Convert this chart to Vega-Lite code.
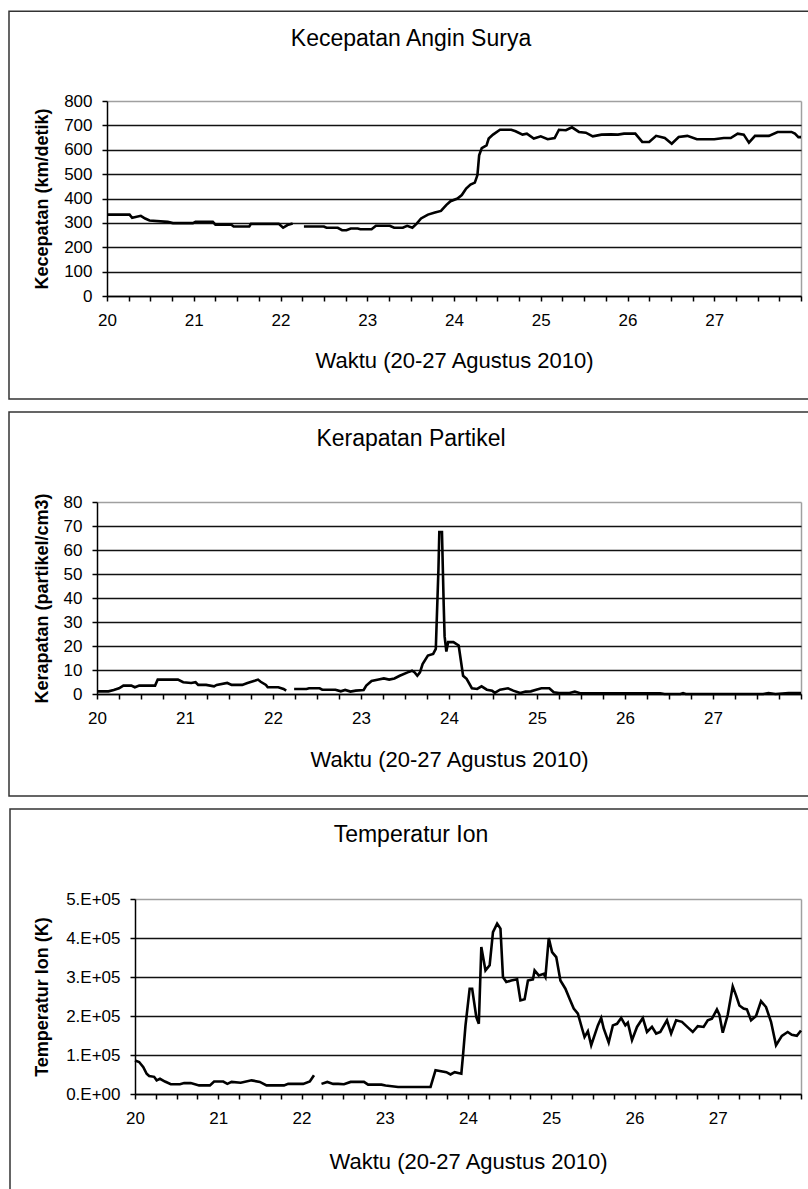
{
  "$schema": "https://vega.github.io/schema/vega-lite/v6.json",
  "background": "white",
  "padding": {"left": 8, "top": 10, "right": 0, "bottom": 0},
  "spacing": 11,
  "datasets": {
    "speed": [
      {"d": 20.00, "v": 334, "seg": 1}, {"d": 20.26, "v": 334, "seg": 1}, {"d": 20.29, "v": 321, "seg": 1}, {"d": 20.39, "v": 329, "seg": 1},
      {"d": 20.44, "v": 318, "seg": 1}, {"d": 20.49, "v": 310, "seg": 1}, {"d": 20.70, "v": 304, "seg": 1}, {"d": 20.76, "v": 299, "seg": 1},
      {"d": 20.99, "v": 299, "seg": 1}, {"d": 21.02, "v": 304, "seg": 1}, {"d": 21.22, "v": 304, "seg": 1}, {"d": 21.25, "v": 293, "seg": 1},
      {"d": 21.43, "v": 293, "seg": 1}, {"d": 21.46, "v": 285, "seg": 1}, {"d": 21.64, "v": 285, "seg": 1}, {"d": 21.66, "v": 296, "seg": 1},
      {"d": 21.98, "v": 296, "seg": 1}, {"d": 22.03, "v": 280, "seg": 1}, {"d": 22.08, "v": 291, "seg": 1}, {"d": 22.14, "v": 297, "seg": 1},
      {"d": 22.27, "v": 285, "seg": 2}, {"d": 22.50, "v": 285, "seg": 2}, {"d": 22.53, "v": 280, "seg": 2}, {"d": 22.66, "v": 280, "seg": 2},
      {"d": 22.71, "v": 270, "seg": 2}, {"d": 22.76, "v": 270, "seg": 2}, {"d": 22.81, "v": 277, "seg": 2}, {"d": 22.89, "v": 277, "seg": 2},
      {"d": 22.92, "v": 274, "seg": 2}, {"d": 23.05, "v": 274, "seg": 2}, {"d": 23.10, "v": 288, "seg": 2}, {"d": 23.26, "v": 288, "seg": 2},
      {"d": 23.31, "v": 280, "seg": 2}, {"d": 23.41, "v": 280, "seg": 2}, {"d": 23.46, "v": 288, "seg": 2}, {"d": 23.52, "v": 280, "seg": 2},
      {"d": 23.57, "v": 297, "seg": 2}, {"d": 23.62, "v": 318, "seg": 2}, {"d": 23.70, "v": 334, "seg": 2}, {"d": 23.78, "v": 343, "seg": 2},
      {"d": 23.85, "v": 349, "seg": 2}, {"d": 23.91, "v": 373, "seg": 2}, {"d": 23.96, "v": 389, "seg": 2}, {"d": 24.04, "v": 400, "seg": 2},
      {"d": 24.09, "v": 414, "seg": 2}, {"d": 24.14, "v": 441, "seg": 2}, {"d": 24.19, "v": 457, "seg": 2}, {"d": 24.24, "v": 465, "seg": 2},
      {"d": 24.27, "v": 496, "seg": 2}, {"d": 24.29, "v": 577, "seg": 2}, {"d": 24.32, "v": 607, "seg": 2}, {"d": 24.375, "v": 618, "seg": 2},
      {"d": 24.40, "v": 646, "seg": 2}, {"d": 24.45, "v": 662, "seg": 2}, {"d": 24.53, "v": 682, "seg": 2}, {"d": 24.66, "v": 682, "seg": 2},
      {"d": 24.71, "v": 676, "seg": 2}, {"d": 24.79, "v": 662, "seg": 2}, {"d": 24.84, "v": 666, "seg": 2}, {"d": 24.92, "v": 646, "seg": 2},
      {"d": 25.00, "v": 655, "seg": 2}, {"d": 25.08, "v": 643, "seg": 2}, {"d": 25.16, "v": 648, "seg": 2}, {"d": 25.21, "v": 682, "seg": 2},
      {"d": 25.29, "v": 680, "seg": 2}, {"d": 25.36, "v": 692, "seg": 2}, {"d": 25.44, "v": 673, "seg": 2}, {"d": 25.52, "v": 670, "seg": 2},
      {"d": 25.60, "v": 655, "seg": 2}, {"d": 25.70, "v": 662, "seg": 2}, {"d": 25.81, "v": 663, "seg": 2}, {"d": 25.89, "v": 662, "seg": 2},
      {"d": 25.96, "v": 666, "seg": 2}, {"d": 26.09, "v": 666, "seg": 2}, {"d": 26.17, "v": 632, "seg": 2}, {"d": 26.25, "v": 632, "seg": 2},
      {"d": 26.33, "v": 657, "seg": 2}, {"d": 26.43, "v": 648, "seg": 2}, {"d": 26.51, "v": 625, "seg": 2}, {"d": 26.59, "v": 652, "seg": 2},
      {"d": 26.69, "v": 657, "seg": 2}, {"d": 26.80, "v": 643, "seg": 2}, {"d": 27.00, "v": 643, "seg": 2}, {"d": 27.11, "v": 648, "seg": 2},
      {"d": 27.19, "v": 648, "seg": 2}, {"d": 27.27, "v": 666, "seg": 2}, {"d": 27.34, "v": 662, "seg": 2}, {"d": 27.40, "v": 629, "seg": 2},
      {"d": 27.47, "v": 657, "seg": 2}, {"d": 27.63, "v": 657, "seg": 2}, {"d": 27.73, "v": 673, "seg": 2}, {"d": 27.89, "v": 673, "seg": 2},
      {"d": 27.93, "v": 666, "seg": 2}, {"d": 27.97, "v": 652, "seg": 2}, {"d": 28.00, "v": 652, "seg": 2}
    ],
    "dens": [
      {"d": 20.00, "v": 1.1, "seg": 1}, {"d": 20.13, "v": 1.1, "seg": 1}, {"d": 20.19, "v": 1.7, "seg": 1}, {"d": 20.25, "v": 2.4, "seg": 1},
      {"d": 20.30, "v": 3.5, "seg": 1}, {"d": 20.39, "v": 3.5, "seg": 1}, {"d": 20.43, "v": 2.8, "seg": 1}, {"d": 20.48, "v": 3.5, "seg": 1},
      {"d": 20.66, "v": 3.5, "seg": 1}, {"d": 20.69, "v": 6.0, "seg": 1}, {"d": 20.92, "v": 6.0, "seg": 1}, {"d": 20.98, "v": 4.9, "seg": 1},
      {"d": 21.07, "v": 4.6, "seg": 1}, {"d": 21.12, "v": 4.9, "seg": 1}, {"d": 21.15, "v": 3.8, "seg": 1}, {"d": 21.24, "v": 3.8, "seg": 1},
      {"d": 21.33, "v": 3.2, "seg": 1}, {"d": 21.36, "v": 3.8, "seg": 1}, {"d": 21.48, "v": 4.6, "seg": 1}, {"d": 21.53, "v": 3.8, "seg": 1},
      {"d": 21.65, "v": 3.8, "seg": 1}, {"d": 21.71, "v": 4.6, "seg": 1}, {"d": 21.80, "v": 5.6, "seg": 1}, {"d": 21.83, "v": 6.0, "seg": 1},
      {"d": 21.86, "v": 5.1, "seg": 1}, {"d": 21.92, "v": 3.8, "seg": 1}, {"d": 21.94, "v": 2.8, "seg": 1}, {"d": 22.06, "v": 2.8, "seg": 1},
      {"d": 22.12, "v": 2.1, "seg": 1}, {"d": 22.15, "v": 1.4, "seg": 1},
      {"d": 22.24, "v": 2.1, "seg": 2}, {"d": 22.38, "v": 2.1, "seg": 2}, {"d": 22.41, "v": 2.4, "seg": 2}, {"d": 22.53, "v": 2.4, "seg": 2},
      {"d": 22.56, "v": 1.8, "seg": 2}, {"d": 22.71, "v": 1.8, "seg": 2}, {"d": 22.77, "v": 1.1, "seg": 2}, {"d": 22.82, "v": 1.7, "seg": 2},
      {"d": 22.88, "v": 1.0, "seg": 2}, {"d": 22.94, "v": 1.4, "seg": 2}, {"d": 23.03, "v": 1.7, "seg": 2}, {"d": 23.06, "v": 3.5, "seg": 2},
      {"d": 23.12, "v": 5.4, "seg": 2}, {"d": 23.20, "v": 6.0, "seg": 2}, {"d": 23.26, "v": 6.5, "seg": 2}, {"d": 23.32, "v": 6.0, "seg": 2},
      {"d": 23.38, "v": 6.5, "seg": 2}, {"d": 23.44, "v": 7.6, "seg": 2}, {"d": 23.53, "v": 9.0, "seg": 2}, {"d": 23.58, "v": 9.7, "seg": 2},
      {"d": 23.61, "v": 9.0, "seg": 2}, {"d": 23.64, "v": 7.6, "seg": 2}, {"d": 23.67, "v": 9.0, "seg": 2}, {"d": 23.70, "v": 12.5, "seg": 2},
      {"d": 23.76, "v": 16.0, "seg": 2}, {"d": 23.82, "v": 16.7, "seg": 2}, {"d": 23.85, "v": 18.8, "seg": 2}, {"d": 23.88, "v": 52, "seg": 2},
      {"d": 23.89, "v": 67.5, "seg": 2}, {"d": 23.92, "v": 67.5, "seg": 2}, {"d": 23.94, "v": 36.9, "seg": 2}, {"d": 23.95, "v": 24.0, "seg": 2},
      {"d": 23.97, "v": 17.7, "seg": 2}, {"d": 23.99, "v": 21.6, "seg": 2}, {"d": 24.05, "v": 21.6, "seg": 2}, {"d": 24.11, "v": 20.2, "seg": 2},
      {"d": 24.16, "v": 7.6, "seg": 2}, {"d": 24.20, "v": 6.3, "seg": 2}, {"d": 24.26, "v": 2.4, "seg": 2}, {"d": 24.32, "v": 2.1, "seg": 2},
      {"d": 24.37, "v": 3.2, "seg": 2}, {"d": 24.43, "v": 1.8, "seg": 2}, {"d": 24.49, "v": 1.4, "seg": 2}, {"d": 24.52, "v": 0.5, "seg": 2},
      {"d": 24.58, "v": 1.8, "seg": 2}, {"d": 24.67, "v": 2.4, "seg": 2}, {"d": 24.73, "v": 1.4, "seg": 2}, {"d": 24.81, "v": 0.4, "seg": 2},
      {"d": 24.87, "v": 1.0, "seg": 2}, {"d": 24.93, "v": 1.1, "seg": 2}, {"d": 24.99, "v": 1.8, "seg": 2}, {"d": 25.05, "v": 2.4, "seg": 2},
      {"d": 25.14, "v": 2.4, "seg": 2}, {"d": 25.19, "v": 0.7, "seg": 2}, {"d": 25.25, "v": 0.4, "seg": 2}, {"d": 25.37, "v": 0.4, "seg": 2},
      {"d": 25.43, "v": 1.0, "seg": 2}, {"d": 25.49, "v": 0.3, "seg": 2}, {"d": 25.81, "v": 0.3, "seg": 2}, {"d": 26.40, "v": 0.3, "seg": 2},
      {"d": 26.45, "v": 0.0, "seg": 2}, {"d": 26.63, "v": 0.0, "seg": 2}, {"d": 26.66, "v": 0.4, "seg": 2}, {"d": 26.69, "v": 0.0, "seg": 2},
      {"d": 27.57, "v": 0.0, "seg": 2}, {"d": 27.63, "v": 0.4, "seg": 2}, {"d": 27.71, "v": 0.0, "seg": 2}, {"d": 27.86, "v": 0.4, "seg": 2},
      {"d": 28.00, "v": 0.4, "seg": 2}
    ],
    "temp": [
      {"d": 20.00, "v": 86000, "seg": 1}, {"d": 20.05, "v": 82000, "seg": 1}, {"d": 20.10, "v": 69000, "seg": 1}, {"d": 20.14, "v": 52000, "seg": 1},
      {"d": 20.17, "v": 46000, "seg": 1}, {"d": 20.23, "v": 44000, "seg": 1}, {"d": 20.26, "v": 35000, "seg": 1}, {"d": 20.30, "v": 39000, "seg": 1},
      {"d": 20.36, "v": 32000, "seg": 1}, {"d": 20.43, "v": 25000, "seg": 1}, {"d": 20.54, "v": 25000, "seg": 1}, {"d": 20.59, "v": 28000, "seg": 1},
      {"d": 20.67, "v": 28000, "seg": 1}, {"d": 20.77, "v": 22000, "seg": 1}, {"d": 20.90, "v": 22000, "seg": 1}, {"d": 20.95, "v": 32000, "seg": 1},
      {"d": 21.06, "v": 32000, "seg": 1}, {"d": 21.11, "v": 26000, "seg": 1}, {"d": 21.16, "v": 31000, "seg": 1}, {"d": 21.27, "v": 29000, "seg": 1},
      {"d": 21.40, "v": 35000, "seg": 1}, {"d": 21.50, "v": 31000, "seg": 1}, {"d": 21.58, "v": 22000, "seg": 1}, {"d": 21.79, "v": 22000, "seg": 1},
      {"d": 21.84, "v": 26000, "seg": 1}, {"d": 22.02, "v": 26000, "seg": 1}, {"d": 22.10, "v": 32000, "seg": 1}, {"d": 22.15, "v": 48000, "seg": 1},
      {"d": 22.24, "v": 26000, "seg": 2}, {"d": 22.31, "v": 31000, "seg": 2}, {"d": 22.38, "v": 26000, "seg": 2}, {"d": 22.44, "v": 26000, "seg": 2},
      {"d": 22.51, "v": 25000, "seg": 2}, {"d": 22.59, "v": 31000, "seg": 2}, {"d": 22.75, "v": 31000, "seg": 2}, {"d": 22.80, "v": 24000, "seg": 2},
      {"d": 22.96, "v": 24000, "seg": 2}, {"d": 23.01, "v": 22000, "seg": 2}, {"d": 23.16, "v": 18000, "seg": 2}, {"d": 23.55, "v": 18000, "seg": 2},
      {"d": 23.61, "v": 61000, "seg": 2}, {"d": 23.74, "v": 56000, "seg": 2}, {"d": 23.79, "v": 50000, "seg": 2}, {"d": 23.84, "v": 56000, "seg": 2},
      {"d": 23.92, "v": 52000, "seg": 2}, {"d": 23.94, "v": 99000, "seg": 2}, {"d": 23.97, "v": 176000, "seg": 2}, {"d": 24.02, "v": 270000, "seg": 2},
      {"d": 24.05, "v": 270000, "seg": 2}, {"d": 24.10, "v": 197000, "seg": 2}, {"d": 24.13, "v": 180000, "seg": 2}, {"d": 24.16, "v": 377000, "seg": 2},
      {"d": 24.21, "v": 317000, "seg": 2}, {"d": 24.26, "v": 330000, "seg": 2}, {"d": 24.30, "v": 415000, "seg": 2}, {"d": 24.35, "v": 437000, "seg": 2},
      {"d": 24.39, "v": 424000, "seg": 2}, {"d": 24.42, "v": 300000, "seg": 2}, {"d": 24.46, "v": 287000, "seg": 2}, {"d": 24.52, "v": 291000, "seg": 2},
      {"d": 24.59, "v": 294000, "seg": 2}, {"d": 24.63, "v": 240000, "seg": 2}, {"d": 24.68, "v": 243000, "seg": 2}, {"d": 24.72, "v": 291000, "seg": 2},
      {"d": 24.78, "v": 294000, "seg": 2}, {"d": 24.80, "v": 317000, "seg": 2}, {"d": 24.85, "v": 304000, "seg": 2}, {"d": 24.91, "v": 308000, "seg": 2},
      {"d": 24.93, "v": 300000, "seg": 2}, {"d": 24.97, "v": 400000, "seg": 2}, {"d": 25.01, "v": 364000, "seg": 2}, {"d": 25.06, "v": 351000, "seg": 2},
      {"d": 25.11, "v": 291000, "seg": 2}, {"d": 25.17, "v": 270000, "seg": 2}, {"d": 25.22, "v": 244000, "seg": 2}, {"d": 25.27, "v": 219000, "seg": 2},
      {"d": 25.32, "v": 206000, "seg": 2}, {"d": 25.37, "v": 168000, "seg": 2}, {"d": 25.40, "v": 146000, "seg": 2}, {"d": 25.44, "v": 161000, "seg": 2},
      {"d": 25.48, "v": 125000, "seg": 2}, {"d": 25.56, "v": 176000, "seg": 2}, {"d": 25.60, "v": 195000, "seg": 2}, {"d": 25.63, "v": 168000, "seg": 2},
      {"d": 25.69, "v": 132000, "seg": 2}, {"d": 25.74, "v": 176000, "seg": 2}, {"d": 25.79, "v": 180000, "seg": 2}, {"d": 25.84, "v": 195000, "seg": 2},
      {"d": 25.89, "v": 176000, "seg": 2}, {"d": 25.92, "v": 183000, "seg": 2}, {"d": 25.97, "v": 138000, "seg": 2}, {"d": 26.03, "v": 172000, "seg": 2},
      {"d": 26.10, "v": 195000, "seg": 2}, {"d": 26.15, "v": 159000, "seg": 2}, {"d": 26.21, "v": 172000, "seg": 2}, {"d": 26.26, "v": 155000, "seg": 2},
      {"d": 26.31, "v": 159000, "seg": 2}, {"d": 26.39, "v": 189000, "seg": 2}, {"d": 26.44, "v": 155000, "seg": 2}, {"d": 26.50, "v": 189000, "seg": 2},
      {"d": 26.57, "v": 185000, "seg": 2}, {"d": 26.65, "v": 169000, "seg": 2}, {"d": 26.70, "v": 159000, "seg": 2}, {"d": 26.76, "v": 174000, "seg": 2},
      {"d": 26.83, "v": 172000, "seg": 2}, {"d": 26.88, "v": 189000, "seg": 2}, {"d": 26.93, "v": 193000, "seg": 2}, {"d": 26.99, "v": 217000, "seg": 2},
      {"d": 27.02, "v": 203000, "seg": 2}, {"d": 27.06, "v": 157000, "seg": 2}, {"d": 27.12, "v": 203000, "seg": 2}, {"d": 27.18, "v": 276000, "seg": 2},
      {"d": 27.22, "v": 253000, "seg": 2}, {"d": 27.26, "v": 227000, "seg": 2}, {"d": 27.31, "v": 219000, "seg": 2}, {"d": 27.35, "v": 217000, "seg": 2},
      {"d": 27.40, "v": 189000, "seg": 2}, {"d": 27.46, "v": 200000, "seg": 2}, {"d": 27.52, "v": 238000, "seg": 2}, {"d": 27.58, "v": 223000, "seg": 2},
      {"d": 27.64, "v": 185000, "seg": 2}, {"d": 27.70, "v": 125000, "seg": 2}, {"d": 27.77, "v": 149000, "seg": 2}, {"d": 27.84, "v": 159000, "seg": 2},
      {"d": 27.89, "v": 152000, "seg": 2}, {"d": 27.95, "v": 149000, "seg": 2}, {"d": 28.00, "v": 163000, "seg": 2}
    ]
  },
  "vconcat": [
    {
      "width": 704,
      "height": 195,
      "title": {"text": "Kecepatan Angin Surya", "dx": -38, "offset": -40},
      "layer": [
        {
          "data": {"name": "speed"},
          "mark": {"type": "line", "color": "#000", "strokeWidth": 2.6},
          "encoding": {
            "x": {"field": "d", "type": "quantitative", "scale": {"domain": [20, 28], "range": [10, 704], "nice": false, "zero": false},
                  "axis": {"title": "Waktu (20-27 Agustus 2010)", "titleY": 64, "titleX": 357, "grid": true, "gridColor": "#a0a0a0",
                           "gridOpacity": {"condition": {"test": "datum.value === 28", "value": 1}, "value": 0},
                           "values": [20,20.25,20.5,20.75,21,21.25,21.5,21.75,22,22.25,22.5,22.75,23,23.25,23.5,23.75,24,24.25,24.5,24.75,25,25.25,25.5,25.75,26,26.25,26.5,26.75,27,27.25,27.5,27.75,28],
                           "labelExpr": "datum.value % 1 === 0 && datum.value < 28 ? format(datum.value, 'd') : ''"}},
            "y": {"field": "v", "type": "quantitative", "scale": {"domain": [0, 800], "nice": false, "zero": false},
                  "axis": {"title": "Kecepatan (km/detik)", "titleX": -65, "titleY": 97.5, "offset": -10,
                           "values": [0,100,200,300,400,500,600,700,800],
                           "gridColor": {"condition": {"test": "datum.value === 800", "value": "#a0a0a0"}, "value": "#111"}}},
            "detail": {"field": "seg", "type": "nominal"}
          }
        },
        {
          "data": {"values": [{}]},
          "mark": {"type": "rect", "fill": "transparent", "stroke": "#333", "strokeWidth": 1.5, "clip": false},
          "encoding": {
            "x": {"datum": 18.8703, "type": "quantitative", "scale": {"domain": [20, 28], "range": [10, 704], "nice": false, "zero": false},
                  "axis": {"title": "Waktu (20-27 Agustus 2010)", "titleY": 64, "titleX": 357, "grid": true, "gridColor": "#a0a0a0",
                           "gridOpacity": {"condition": {"test": "datum.value === 28", "value": 1}, "value": 0},
                           "values": [20,20.25,20.5,20.75,21,21.25,21.5,21.75,22,22.25,22.5,22.75,23,23.25,23.5,23.75,24,24.25,24.5,24.75,25,25.25,25.5,25.75,26,26.25,26.5,26.75,27,27.25,27.5,27.75,28],
                           "labelExpr": "datum.value % 1 === 0 && datum.value < 28 ? format(datum.value, 'd') : ''"}},
            "x2": {"datum": 28.196},
            "y": {"datum": 1168, "type": "quantitative", "scale": {"domain": [0, 800], "nice": false, "zero": false},
                  "axis": {"title": "Kecepatan (km/detik)", "titleX": -65, "titleY": 97.5, "offset": -10,
                           "values": [0,100,200,300,400,500,600,700,800],
                           "gridColor": {"condition": {"test": "datum.value === 800", "value": "#a0a0a0"}, "value": "#111"}}},
            "y2": {"datum": -422.6}
          }
        }
      ]
    },
    {
      "width": 704,
      "height": 192,
      "title": {"text": "Kerapatan Partikel", "dx": -38, "offset": -40},
      "layer": [
        {
          "data": {"name": "dens"},
          "mark": {"type": "line", "color": "#000", "strokeWidth": 2.6},
          "encoding": {
            "x": {"field": "d", "type": "quantitative", "scale": {"domain": [20, 28], "range": [0, 704], "nice": false, "zero": false},
                  "axis": {"title": "Waktu (20-27 Agustus 2010)", "titleY": 65, "titleX": 352, "grid": true, "gridColor": "#a0a0a0",
                           "gridOpacity": {"condition": {"test": "datum.value === 28", "value": 1}, "value": 0},
                           "values": [20,20.25,20.5,20.75,21,21.25,21.5,21.75,22,22.25,22.5,22.75,23,23.25,23.5,23.75,24,24.25,24.5,24.75,25,25.25,25.5,25.75,26,26.25,26.5,26.75,27,27.25,27.5,27.75,28],
                           "labelExpr": "datum.value % 1 === 0 && datum.value < 28 ? format(datum.value, 'd') : ''"}},
            "y": {"field": "v", "type": "quantitative", "scale": {"domain": [0, 80], "nice": false, "zero": false},
                  "axis": {"title": "Kerapatan (partikel/cm3)", "titleX": -55, "titleY": 96,
                           "values": [0,10,20,30,40,50,60,70,80],
                           "gridColor": {"condition": {"test": "datum.value === 80", "value": "#a0a0a0"}, "value": "#111"}}},
            "detail": {"field": "seg", "type": "nominal"}
          }
        },
        {
          "data": {"values": [{}]},
          "mark": {"type": "rect", "fill": "transparent", "stroke": "#333", "strokeWidth": 1.5, "clip": false},
          "encoding": {
            "x": {"datum": 19.0, "type": "quantitative", "scale": {"domain": [20, 28], "range": [0, 704], "nice": false, "zero": false},
                  "axis": {"title": "Waktu (20-27 Agustus 2010)", "titleY": 65, "titleX": 352, "grid": true, "gridColor": "#a0a0a0",
                           "gridOpacity": {"condition": {"test": "datum.value === 28", "value": 1}, "value": 0},
                           "values": [20,20.25,20.5,20.75,21,21.25,21.5,21.75,22,22.25,22.5,22.75,23,23.25,23.5,23.75,24,24.25,24.5,24.75,25,25.25,25.5,25.75,26,26.25,26.5,26.75,27,27.25,27.5,27.75,28],
                           "labelExpr": "datum.value % 1 === 0 && datum.value < 28 ? format(datum.value, 'd') : ''"}},
            "x2": {"datum": 28.193},
            "y": {"datum": 117.5, "type": "quantitative", "scale": {"domain": [0, 80], "nice": false, "zero": false},
                  "axis": {"title": "Kerapatan (partikel/cm3)", "titleX": -55, "titleY": 96,
                           "values": [0,10,20,30,40,50,60,70,80],
                           "gridColor": {"condition": {"test": "datum.value === 80", "value": "#a0a0a0"}, "value": "#111"}}},
            "y2": {"datum": -42.5}
          }
        }
      ]
    },
    {
      "width": 704,
      "height": 195,
      "title": {"text": "Temperatur Ion", "dx": -38, "offset": -39},
      "layer": [
        {
          "data": {"name": "temp"},
          "mark": {"type": "line", "color": "#000", "strokeWidth": 2.6},
          "encoding": {
            "x": {"field": "d", "type": "quantitative", "scale": {"domain": [20, 28], "range": [38, 704], "nice": false, "zero": false},
                  "axis": {"title": "Waktu (20-27 Agustus 2010)", "titleY": 67, "titleX": 371, "grid": true, "gridColor": "#a0a0a0",
                           "gridOpacity": {"condition": {"test": "datum.value === 28", "value": 1}, "value": 0},
                           "values": [20,20.25,20.5,20.75,21,21.25,21.5,21.75,22,22.25,22.5,22.75,23,23.25,23.5,23.75,24,24.25,24.5,24.75,25,25.25,25.5,25.75,26,26.25,26.5,26.75,27,27.25,27.5,27.75,28],
                           "labelExpr": "datum.value % 1 === 0 && datum.value < 28 ? format(datum.value, 'd') : ''"}},
            "y": {"field": "v", "type": "quantitative", "scale": {"domain": [0, 500000], "nice": false, "zero": false},
                  "axis": {"title": "Temperatur Ion (K)", "titleX": -93, "titleY": 97.5, "offset": -38,
                           "values": [0,100000,200000,300000,400000,500000],
                           "labelExpr": "datum.value === 0 ? '0.E+00' : format(datum.value / 100000, 'd') + '.E+05'",
                           "gridColor": {"condition": {"test": "datum.value === 500000", "value": "#a0a0a0"}, "value": "#111"}}},
            "detail": {"field": "seg", "type": "nominal"}
          }
        },
        {
          "data": {"values": [{}]},
          "mark": {"type": "rect", "fill": "transparent", "stroke": "#333", "strokeWidth": 1.5, "clip": false},
          "encoding": {
            "x": {"datum": 18.4985, "type": "quantitative", "scale": {"domain": [20, 28], "range": [38, 704], "nice": false, "zero": false},
                  "axis": {"title": "Waktu (20-27 Agustus 2010)", "titleY": 67, "titleX": 371, "grid": true, "gridColor": "#a0a0a0",
                           "gridOpacity": {"condition": {"test": "datum.value === 28", "value": 1}, "value": 0},
                           "values": [20,20.25,20.5,20.75,21,21.25,21.5,21.75,22,22.25,22.5,22.75,23,23.25,23.5,23.75,24,24.25,24.5,24.75,25,25.25,25.5,25.75,26,26.25,26.5,26.75,27,27.25,27.5,27.75,28],
                           "labelExpr": "datum.value % 1 === 0 && datum.value < 28 ? format(datum.value, 'd') : ''"}},
            "x2": {"datum": 28.2162},
            "y": {"datum": 730769, "type": "quantitative", "scale": {"domain": [0, 500000], "nice": false, "zero": false},
                  "axis": {"title": "Temperatur Ion (K)", "titleX": -93, "titleY": 97.5, "offset": -38,
                           "values": [0,100000,200000,300000,400000,500000],
                           "labelExpr": "datum.value === 0 ? '0.E+00' : format(datum.value / 100000, 'd') + '.E+05'",
                           "gridColor": {"condition": {"test": "datum.value === 500000", "value": "#a0a0a0"}, "value": "#111"}}},
            "y2": {"datum": -272000}
          }
        }
      ]
    }
  ],
  "config": {
    "font": "Liberation Sans",
    "view": {"stroke": null},
    "title": {"anchor": "middle", "frame": "group", "font": "Liberation Sans", "fontSize": 23, "fontWeight": "normal", "color": "#000", "baseline": "alphabetic"},
    "axis": {
      "domainColor": "#000", "domainWidth": 1.5,
      "tickColor": "#000", "tickWidth": 1.5, "tickSize": 5,
      "labelFont": "Liberation Sans", "labelFontSize": 17, "labelColor": "#000", "labelPadding": 10, "labelFlush": false, "labelOverlap": false,
      "gridWidth": 1.5,
      "titleFont": "Liberation Sans", "titleColor": "#000"
    },
    "axisX": {"titleFontSize": 22, "titleFontWeight": "normal", "titleBaseline": "middle", "labelPadding": 11},
    "axisY": {"titleFontSize": 18, "titleFontWeight": "bold", "titleBaseline": "middle", "titleAngle": 270, "titleAlign": "center"}
  }
}
